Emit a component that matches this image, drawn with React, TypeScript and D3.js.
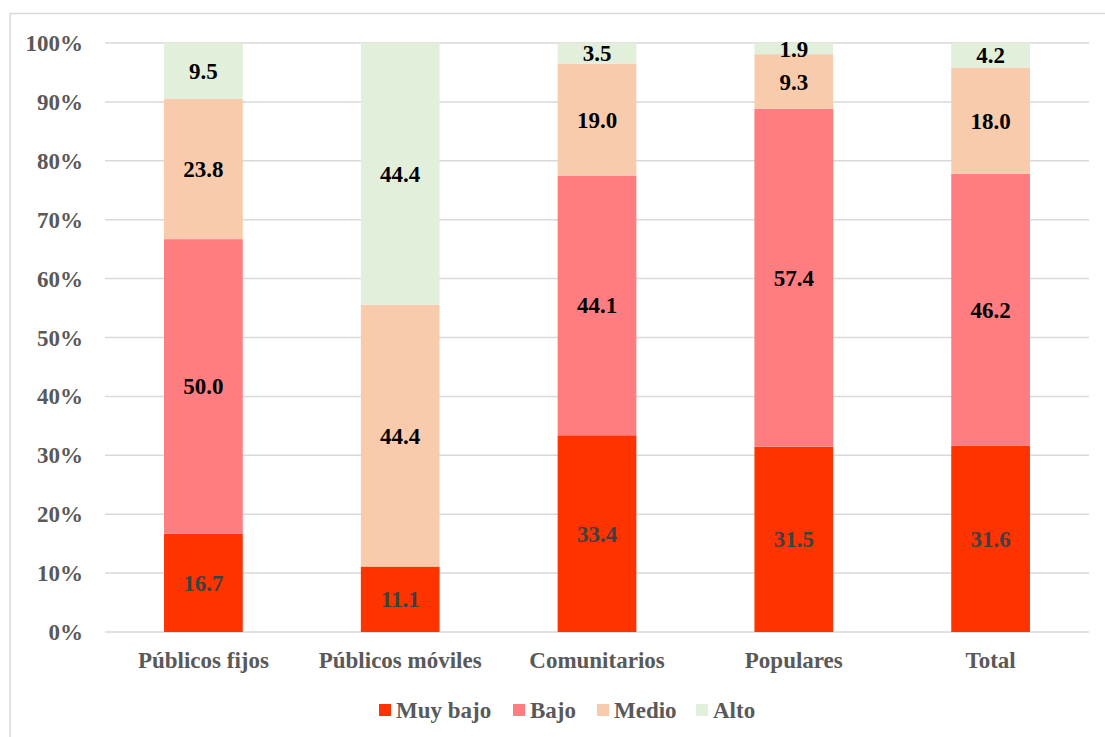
import React from "react";
import * as d3 from "d3";

const categories = ["Públicos fijos", "Públicos móviles", "Comunitarios", "Populares", "Total"];
const seriesNames = ["Muy bajo", "Bajo", "Medio", "Alto"];
const muyBajo = [16.7, 11.1, 33.4, 31.5, 31.6];
const bajo = [50.0, 0, 44.1, 57.4, 46.2];
const medio = [23.8, 44.4, 19.0, 9.3, 18.0];
const alto = [9.5, 44.4, 3.5, 1.9, 4.2];
const colors = ["#FF3300", "#FF7C80", "#F8CBAD", "#E2EFDA"];
const labelColors = ["#404040", "#000000", "#000000", "#000000"];
const yTicks = [0, 10, 20, 30, 40, 50, 60, 70, 80, 90, 100];

const W = 1105;
const H = 737;
const left = 105;
const right = 1089;
const top = 43;
const bottom = 632;
const font = "'Liberation Serif', 'Times New Roman', serif";
const fs = 23;

export default function App() {
  const values = [muyBajo, bajo, medio, alto];
  const rows = categories.map((c, i) => {
    const r: any = { cat: c };
    seriesNames.forEach((s, k) => (r[s] = values[k][i]));
    return r;
  });
  const stacked = d3.stack().keys(seriesNames).offset(d3.stackOffsetExpand)(rows);
  const x = d3.scaleBand().domain(categories).range([left, right]).paddingInner(0.6).paddingOuter(0.3);
  const y = d3.scaleLinear().domain([0, 1]).range([bottom, top]);

  const legendX = [379, 513, 597, 696];

  return (
    <svg width={W} height={H} style={{ position: "absolute", left: 0, top: 0, fontFamily: font }}>
      <rect x={0} y={0} width={W} height={H} fill="#fff" />
      <rect x={10} y={13.5} width={W + 10} height={H + 10} fill="none" stroke="#D9D9D9" strokeWidth={1.5} />
      {yTicks.map((t) => (
        <g key={t}>
          <line x1={left} x2={right} y1={y(t / 100)} y2={y(t / 100)} stroke="#D9D9D9" strokeWidth={1.5} />
          <text x={83} y={y(t / 100)} dy="0.35em" textAnchor="end" fontSize={fs} fontWeight="bold" fill="#595959">
            {t}%
          </text>
        </g>
      ))}
      {stacked.map((layer, k) => (
        <g key={layer.key}>
          {layer.map((d, i) => {
            const h = y(d[0]) - y(d[1]);
            if (h <= 0) return null;
            return (
              <rect key={i} x={x(categories[i])} y={y(d[1])} width={x.bandwidth()} height={h} fill={colors[k]} />
            );
          })}
        </g>
      ))}
      {stacked.map((layer, k) => (
        <g key={"l" + layer.key}>
          {layer.map((d, i) => {
            const v = values[k][i];
            if (!v) return null;
            const cy = (y(d[0]) + y(d[1])) / 2;
            return (
              <text
                key={i}
                x={(x(categories[i]) as number) + x.bandwidth() / 2}
                y={cy}
                dy="0.35em"
                textAnchor="middle"
                fontSize={fs}
                fontWeight="bold"
                fill={labelColors[k]}
              >
                {v.toFixed(1)}
              </text>
            );
          })}
        </g>
      ))}
      {categories.map((c) => (
        <text
          key={c}
          x={(x(c) as number) + x.bandwidth() / 2}
          y={668}
          textAnchor="middle"
          fontSize={fs}
          fontWeight="bold"
          fill="#595959"
        >
          {c}
        </text>
      ))}
      {seriesNames.map((s, k) => (
        <g key={s}>
          <rect x={legendX[k]} y={704} width={12} height={12} fill={colors[k]} />
          <text x={legendX[k] + 17} y={718} fontSize={fs} fontWeight="bold" fill="#595959">
            {s}
          </text>
        </g>
      ))}
    </svg>
  );
}
